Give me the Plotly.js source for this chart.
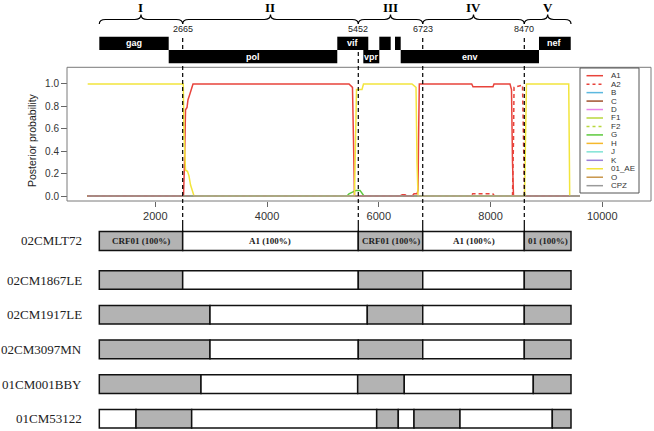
<!DOCTYPE html>
<html><head><meta charset="utf-8">
<script src="https://cdn.plot.ly/plotly-3.0.1.min.js"></script>
<style>html,body{margin:0;padding:0;background:#fff}</style>
</head><body><div id="chart" style="width:654px;height:431px"></div>
<script>
// ---------------- data ----------------
const xTicks = [2000, 4000, 6000, 8000, 10000];
const yTicks = [0, 0.2, 0.4, 0.6, 0.8, 1.0];

// posterior probability series (genome position, probability)
const xAE = [790, 2501, 2514, 2541, 2576, 2603, 2630, 2666, 2693, 5565, 5583, 5601, 5699, 5726, 6594, 6630, 6666, 6684, 6702, 8608, 8625, 8643, 9399, 9410, 9417];
const yAE = [1, 1, 0.55, 0.23, 0.22, 0.18, 0.1, 0.03, 0, 0, 0.5, 0.95, 0.95, 1, 1, 0.98, 0.97, 0.3, 0, 0, 0.6, 1, 1, 0, 0];
const xA1 = [790, 2505, 2523, 2541, 2568, 2585, 2612, 2639, 2675, 5467, 5503, 5529, 5547, 5565, 6380, 6420, 6470, 6500, 6600, 6630, 6684, 6702, 6711, 6725, 7663, 7686, 8044, 8062, 8348, 8375, 8393, 8411, 9417];
const yA1 = [0, 0, 0.3, 0.77, 0.79, 0.86, 0.9, 0.95, 1, 1, 0.98, 0.97, 0.5, 0, 0, 0.012, 0.012, 0, 0, 0.02, 0.02, 0.05, 0.5, 1, 1, 0.975, 0.975, 1, 1, 0.95, 0.3, 0, 0];
const xA2 = [790, 7650, 7680, 8040, 8070, 8393, 8411, 8420, 8572, 8590, 8608, 9417];
const yA2 = [0, 0, 0.02, 0.02, 0, 0, 0.5, 0.97, 0.99, 0.5, 0, 0];
const xG = [790, 5431, 5467, 5521, 5592, 5664, 5699, 5735, 8590, 8608, 8625, 9417];
const yG = [0, 0, 0.02, 0.03, 0.05, 0.05, 0.03, 0, 0, 0.02, 0, 0];
const xFlat = [790, 9601];
const yFlat = [0, 0];

const legendNames = ['A1', 'A2', 'B', 'C', 'D', 'F1', 'F2', 'G', 'H', 'J', 'K', '01_AE', 'O', 'CPZ'];

// gene map
const geneNames = ['gag', 'pol', 'vif', 'vpr', '', '', 'env', 'nef'];
const geneStart = [998, 2240, 5257, 5723, 6009, 6290, 6392, 8867];
const geneEnd   = [2240, 5257, 5812, 6009, 6213, 6392, 8867, 9435];
const geneRow   = [0, 1, 0, 1, 0, 0, 1, 0];

// reference mosaic (query)
const refName = '02CMLT72';
const refBreaks = [998, 2490, 5633, 6786, 8604, 9440];
const refFirstGray = true;
const refLabels = ['CRF01 (100%)', 'A1 (100%)', 'CRF01 (100%)', 'A1 (100%)', '01 (100%)'];
const breakLabels = ['2665', '5452', '6723', '8470'];
const regionNames = ['I', 'II', 'III', 'IV', 'V'];

// other mosaics
const rowNames = ['02CM1867LE', '02CM1917LE', '02CM3097MN', '01CM001BBY', '01CM53122'];
const rowBreaks = [
  [998, 2490, 5633, 6786, 8604, 9440],
  [998, 2979, 5794, 6786, 8604, 9440],
  [998, 2979, 5633, 6786, 8604, 9440],
  [998, 2818, 5622, 6456, 8765, 9440],
  [998, 1655, 2651, 5962, 6349, 6630, 7453, 9105, 9440]
];
const rowFirstGray = [true, true, true, true, false];

// ---------------- styles ----------------
const W = 654, H = 431;
const px = v => v / W;
const py = v => 1 - v / H;
const colors = {A1:'#E8433B', A2:'#E8433B', B:'#5CB8DF', C:'#A0522D', D:'#E884E8', F1:'#B8D73C', F2:'#B8D73C',
  G:'#5CC93C', H:'#F5B82C', J:'#80E3D5', K:'#9A80D8', '01_AE':'#F2E53C', O:'#C9964B', CPZ:'#9A9A9A'};
const dashes = {A2:'4px,3px', F2:'4px,3px'};
const GRAY = '#B3B3B3';
const sans = 'Liberation Sans, Arial, sans-serif';
const serif = 'Liberation Serif, Times New Roman, serif';

// ---------------- traces ----------------
const traces = [];
function line(name, xs, ys) {
  traces.push({type:'scatter', mode:'lines', x:xs, y:ys, xaxis:'x', yaxis:'y', name:name,
    line:{color:colors[name], width:1.5, dash:dashes[name] || 'solid'}, hoverinfo:'skip'});
}
['B','C','D','F1','F2','H','J','K','O'].forEach(n => line(n, xFlat, yFlat));
line('G', xG, yG);
line('A2', xA2, yA2);
line('A1', xA1, yA1);
line('01_AE', xAE, yAE);
line('CPZ', xFlat, yFlat);

// gene map bars
traces.push({type:'bar', orientation:'h', xaxis:'x', yaxis:'y4',
  base: geneStart, x: geneStart.map((s, i) => geneEnd[i] - s), y: geneRow,
  width: 1.0, marker:{color:'#000', line:{width:0}}, hoverinfo:'skip'});

// reference mosaic
function segs(breaks, firstGray, rowVal) {
  const b = [], l = [], y = [], c = [];
  for (let i = 0; i < breaks.length - 1; i++) {
    b.push(breaks[i]); l.push(breaks[i+1] - breaks[i]); y.push(rowVal);
    const gray = (i % 2 === 0) === firstGray;
    c.push(gray ? GRAY : '#FFFFFF');
  }
  return {b, l, y, c};
}
const rs = segs(refBreaks, refFirstGray, 0);
traces.push({type:'bar', orientation:'h', xaxis:'x', yaxis:'y3', base:rs.b, x:rs.l, y:rs.y,
  width:1.0, marker:{color:rs.c, line:{color:'#111', width:1.5}}, hoverinfo:'skip'});

let mb = [], ml = [], my = [], mc = [];
rowBreaks.forEach((br, r) => {
  const s = segs(br, rowFirstGray[r], r);
  mb = mb.concat(s.b); ml = ml.concat(s.l); my = my.concat(s.y); mc = mc.concat(s.c);
});
traces.push({type:'bar', orientation:'h', xaxis:'x', yaxis:'y2', base:mb, x:ml, y:my,
  width:0.535, marker:{color:mc, line:{color:'#111', width:1.5}}, hoverinfo:'skip'});

// ---------------- shapes & annotations ----------------
const shapes = [];
const annotations = [];

// plot box
shapes.push({type:'rect', xref:'paper', yref:'paper', x0:px(67), x1:px(651), y0:py(201), y1:py(67.3),
  line:{color:'#7a7a7a', width:1}, fillcolor:'rgba(0,0,0,0)', layer:'above'});

// dashed breakpoint lines + short ticks
const inner = refBreaks.slice(1, -1);
inner.forEach((b, i) => {
  shapes.push({type:'line', xref:'x', yref:'paper', x0:b, x1:b, y0:py(38), y1:py(221),
    line:{color:'#000', width:1.2, dash:'4px,3px'}, layer:'above'});
  shapes.push({type:'line', xref:'x', yref:'paper', x0:b, x1:b, y0:py(221), y1:py(232),
    line:{color:'#000', width:1.2}, layer:'above'});
  annotations.push({xref:'x', yref:'paper', x:b, y:py(29), text:breakLabels[i], showarrow:false,
    font:{family:sans, size:9, color:'#222'}, xanchor:'center', yanchor:'middle'});
});

// braces + region numerals
const yEnd = py(24), yFlatB = py(19.5), yTip = py(14.5), d = 110;
for (let i = 0; i < refBreaks.length - 1; i++) {
  const a = refBreaks[i], b = refBreaks[i+1], m = (a + b) / 2;
  const path = `M ${a},${yEnd} Q ${a},${yFlatB} ${a+d},${yFlatB} L ${m-d},${yFlatB} Q ${m},${yFlatB} ${m},${yTip} ` +
               `Q ${m},${yFlatB} ${m+d},${yFlatB} L ${b-d},${yFlatB} Q ${b},${yFlatB} ${b},${yEnd}`;
  shapes.push({type:'path', xref:'x', yref:'paper', path:path, line:{color:'#000', width:1.2}});
  annotations.push({xref:'x', yref:'paper', x:m, y:py(7), text:regionNames[i], showarrow:false,
    font:{family:serif, size:13, color:'#000', weight:'bold'}, xanchor:'center', yanchor:'middle'});
  annotations.push({xref:'x', yref:'y3', x:m, y:0, text:refLabels[i], showarrow:false,
    font:{family:serif, size:9, color:'#222', weight:'bold'}, xanchor:'center', yanchor:'middle'});
}

// gene labels
geneNames.forEach((g, i) => {
  if (!g) return;
  annotations.push({xref:'x', yref:'y4', x:(geneStart[i] + geneEnd[i]) / 2, y:geneRow[i], text:g, showarrow:false,
    font:{family:sans, size:9, color:'#fff', weight:'bold'}, xanchor:'center', yanchor:'middle'});
});

// row names
annotations.push({xref:'paper', yref:'y3', x:px(83.5), y:0, text:refName, showarrow:false,
  font:{family:serif, size:13, color:'#222'}, xanchor:'right', yanchor:'middle'});
rowNames.forEach((n, r) => {
  annotations.push({xref:'paper', yref:'y2', x:px(83.5), y:r, text:n, showarrow:false,
    font:{family:serif, size:13, color:'#222'}, xanchor:'right', yanchor:'middle'});
});

// y title
annotations.push({xref:'paper', yref:'paper', x:px(32), y:py(140), text:'Posterior probability', showarrow:false,
  textangle:-90, font:{family:sans, size:10.5, color:'#222'}, xanchor:'center', yanchor:'middle'});

// legend (drawn manually)
shapes.push({type:'rect', xref:'paper', yref:'paper', x0:px(580), x1:px(639), y0:py(193), y1:py(68),
  line:{color:'#555', width:1}, fillcolor:'#fff', layer:'above'});
legendNames.forEach((n, i) => {
  const yy = 75.7 + i * 8.46;
  shapes.push({type:'line', xref:'paper', yref:'paper', x0:px(586.5), x1:px(603), y0:py(yy), y1:py(yy),
    line:{color:colors[n], width:1.5, dash:dashes[n] ? '3px,3px' : 'solid'}, layer:'above'});
  annotations.push({xref:'paper', yref:'paper', x:px(609), y:py(yy), text:n, showarrow:false,
    font:{family:sans, size:8, color:'#333'}, xanchor:'left', yanchor:'middle'});
});

// ---------------- layout ----------------
const layout = {
  width: W, height: H, margin:{l:0, r:0, t:0, b:0},
  paper_bgcolor:'#fff', plot_bgcolor:'rgba(0,0,0,0)',
  showlegend:false, barmode:'overlay',
  xaxis:{domain:[0,1], range:[-779.4, 10925.3], anchor:'y', tickvals:xTicks, ticktext:xTicks.map(String),
    ticks:'outside', ticklen:5, tickcolor:'#666', showline:false, showgrid:false, zeroline:false,
    tickfont:{family:sans, size:11, color:'#333'}},
  yaxis:{domain:[py(201), py(67.3)], range:[-0.0446, 1.149], anchor:'free', position:px(67),
    tickvals:yTicks, ticktext:yTicks.map(v => v.toFixed(1)), ticks:'outside', ticklen:6, tickcolor:'#666',
    showline:false, showgrid:false, zeroline:false, tickfont:{family:sans, size:10, color:'#333'}},
  yaxis2:{domain:[0, py(262.65)], range:[4.3516, -0.5], anchor:'x', visible:false},
  yaxis3:{domain:[py(260), py(222)], range:[-1, 1], anchor:'x', visible:false},
  yaxis4:{domain:[py(66), py(30)], range:[1.703, -1.004], anchor:'x', visible:false},
  shapes: shapes, annotations: annotations
};

Plotly.newPlot('chart', traces, layout, {staticPlot:true, displayModeBar:false});
</script></body></html>
